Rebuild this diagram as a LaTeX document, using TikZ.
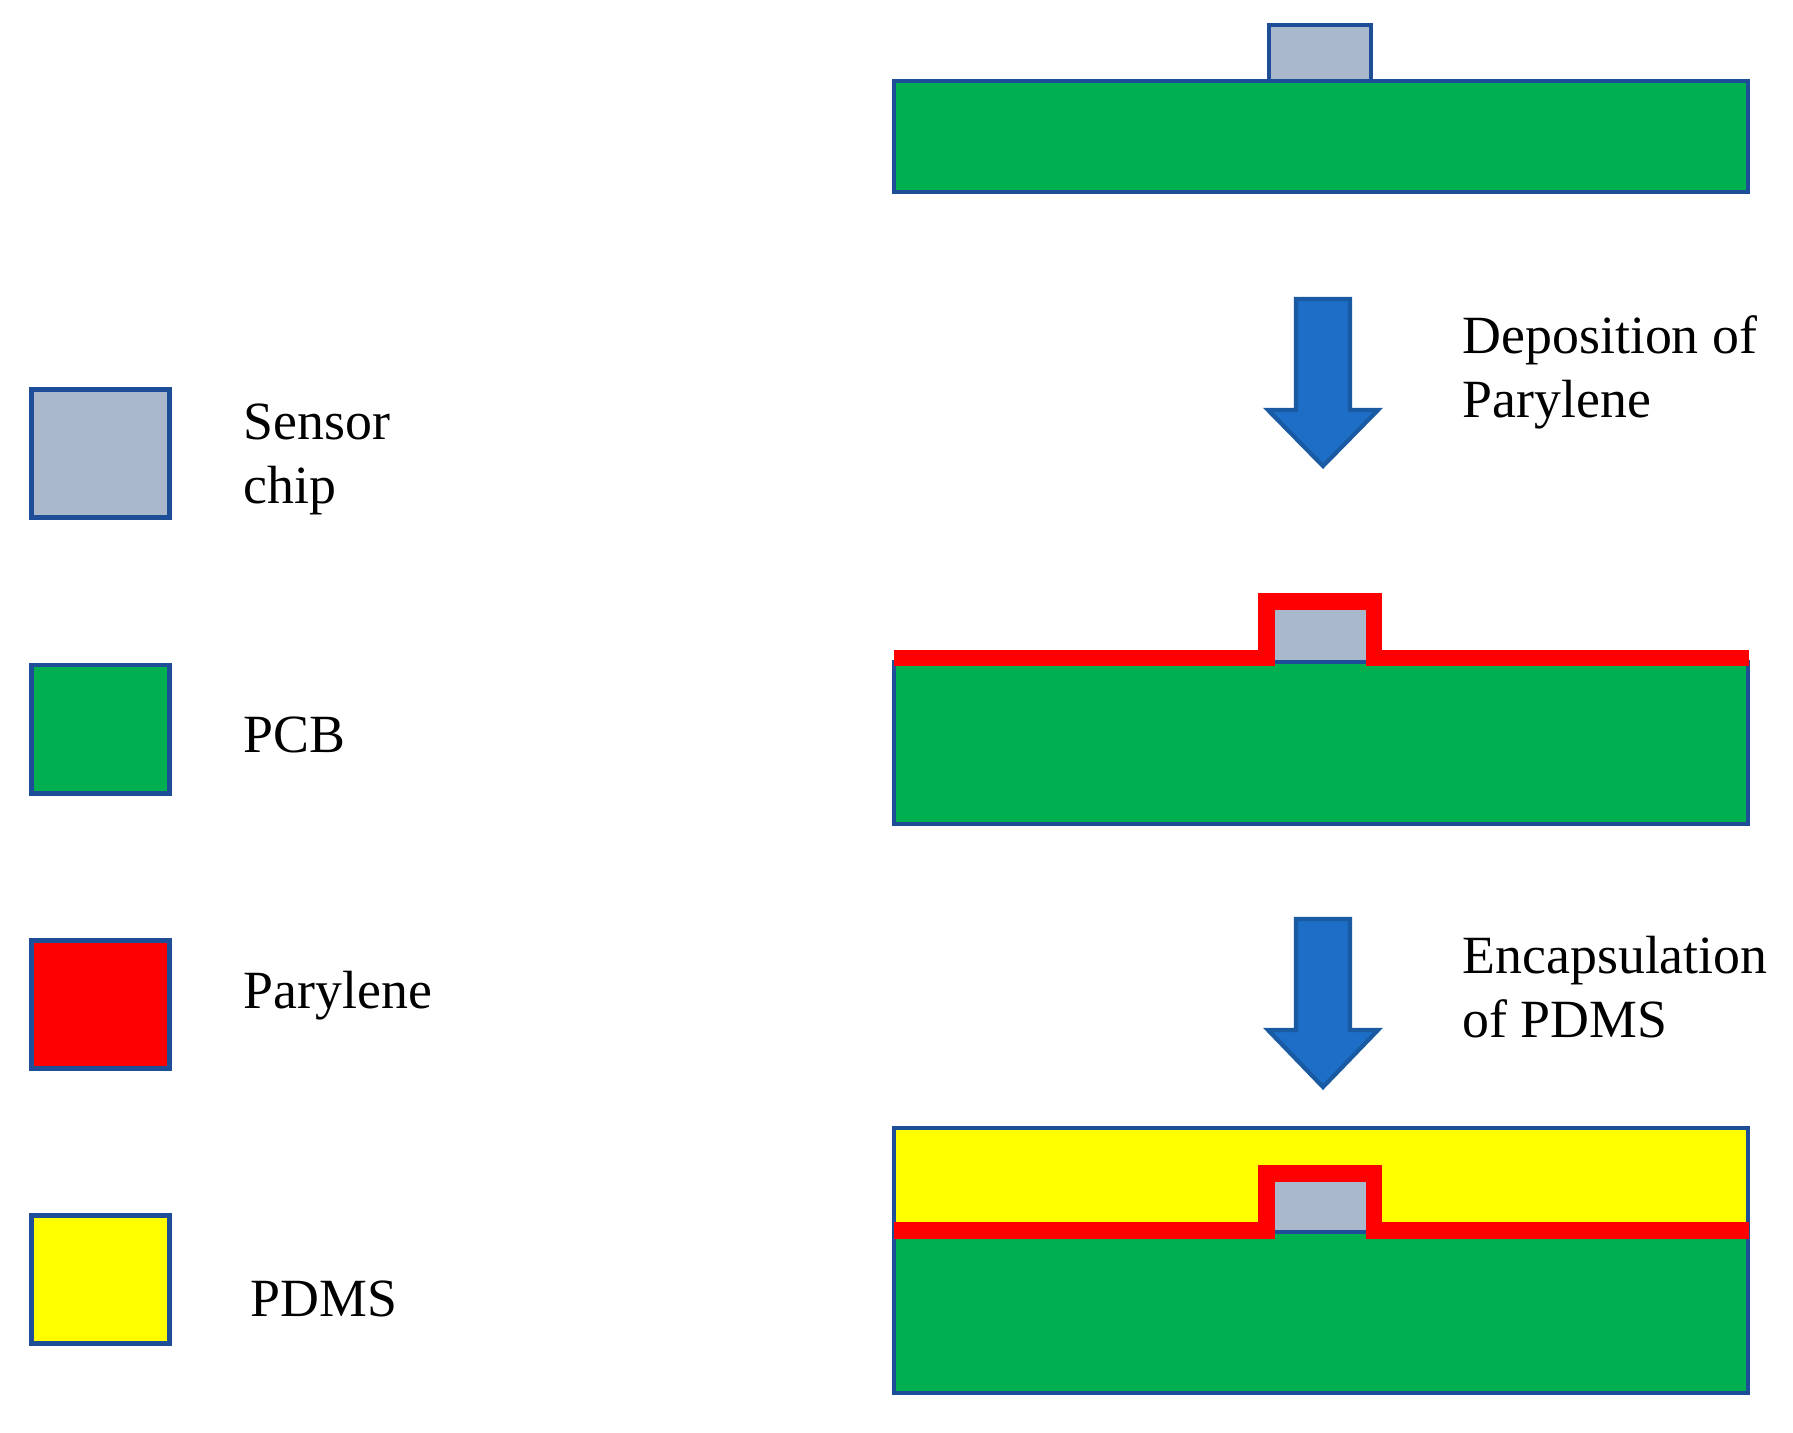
\documentclass[tikz,border=0pt]{standalone}
\usepackage{fontspec}
\setmainfont{Liberation Serif}
\usepackage{tikz}
\usetikzlibrary{positioning}
\definecolor{chipgrey}{HTML}{A9B9CB}
\definecolor{pcbgreen}{HTML}{00B050}
\definecolor{pdmsyellow}{HTML}{FFFF00}
\definecolor{edgeblue}{HTML}{1F4E98}
\definecolor{arrowblue}{HTML}{1C6EC6}
\definecolor{arrowedge}{HTML}{1A5AA2}
\tikzstyle{layer} = [draw=edgeblue, line width=1.4pt]
\tikzstyle{parylene} = [draw=red, line width=4.6pt, miter limit=10]
\tikzstyle{legbox} = [rectangle, layer, minimum width=1.38cm, minimum height=1.28cm, inner sep=0pt]
\tikzstyle{legtext} = [anchor=base west, inner sep=0pt, align=left, font=\fontsize{15.3pt}{18.2pt}\selectfont]
\tikzstyle{steparrow} = [fill=arrowblue, draw=arrowedge, line width=1.2pt]

\begin{document}
\begin{tikzpicture}[x=0.01cm, y=-0.01cm]
\useasboundingbox (0,0) rectangle (1793,1433);

% legend
\node [legbox, fill=chipgrey] (kchip) at (100.5,453.5) {};
\node [legbox, fill=pcbgreen] (kpcb) at (100.5,729) {};
\node [legbox, fill=red] (kpary) at (100.5,1004.5) {};
\node [legbox, fill=pdmsyellow] (kpdms) at (100.5,1279.5) {};

\node [legtext] (tchip) at (243,503) {Sensor\\chip};
\node [legtext] (tpcb) at (243,752) {PCB};
\node [legtext] (tpary) at (243,1008) {Parylene};
\node [legtext] (tpdms) at (250,1316) {PDMS};

% stage 1
\draw [layer, fill=pcbgreen] (894,81) rectangle (1748,192);
\draw [layer, fill=chipgrey] (1269,25) rectangle (1371,81);

% step 1
\draw [steparrow] (1296,299) -- (1350,299) -- (1350,410) -- (1378,410) -- (1323,466) -- (1268,410) -- (1296,410) -- cycle;
\node [legtext] (tdep) at (1462,417) {Deposition of\\Parylene};

% stage 2
\draw [layer, fill=pcbgreen] (894,662) rectangle (1748,824);
\draw [layer, fill=chipgrey] (1271,607) rectangle (1369,662);
\draw [parylene] (894,658) -- (1266.5,658) -- (1266.5,601.5) -- (1374,601.5) -- (1374,658) -- (1749,658);

% step 2
\draw [steparrow] (1296,919) -- (1350,919) -- (1350,1030) -- (1378,1030) -- (1323,1087) -- (1268,1030) -- (1296,1030) -- cycle;
\node [legtext] (tenc) at (1462,1037) {Encapsulation\\of PDMS};

% stage 3
\draw [layer, fill=pdmsyellow] (894,1128) rectangle (1748,1232);
\draw [layer, fill=pcbgreen] (894,1232) rectangle (1748,1393);
\draw [layer, fill=chipgrey] (1271,1179) rectangle (1369,1232);
\draw [parylene] (894,1230.5) -- (1266.5,1230.5) -- (1266.5,1173.5) -- (1374,1173.5) -- (1374,1230.5) -- (1749,1230.5);

\end{tikzpicture}
\end{document}
